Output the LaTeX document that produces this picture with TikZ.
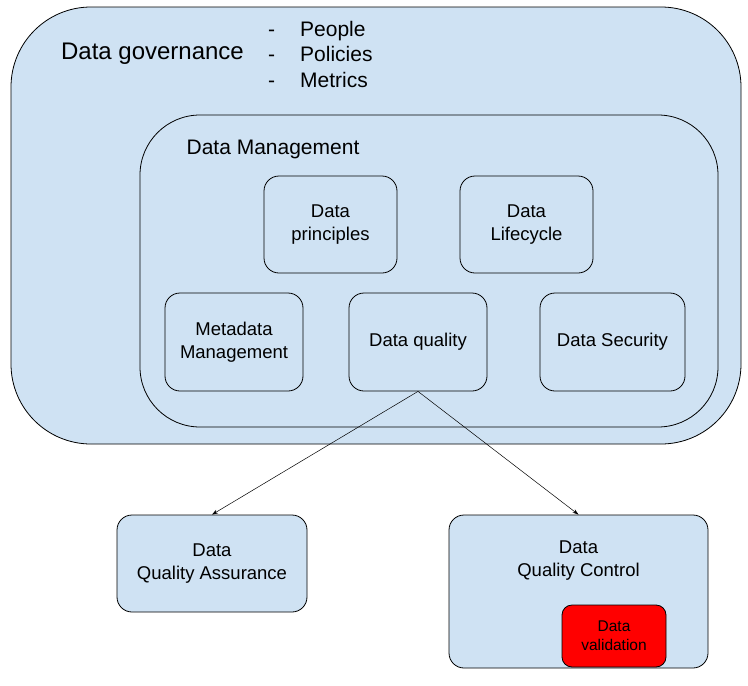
\documentclass[tikz,border=0pt]{standalone}
\usepackage{fontspec}
\setmainfont{Liberation Sans}
\usetikzlibrary{arrows.meta}
\definecolor{govblue}{HTML}{CFE2F3}
\definecolor{valred}{HTML}{FF0000}
\tikzset{
  area/.style={draw, fill=govblue, line width=0.8pt, inner sep=0pt},
  topic/.style={area, rounded corners=15pt, align=center, font=\fontsize{18.5}{23}\selectfont},
  heading/.style={inner sep=0pt, align=left},
  link/.style={-{Stealth[length=6pt,width=4pt]}, line width=0.5pt}
}

\begin{document}
\begin{tikzpicture}[x=1pt, y=-1pt]
				%%%%% START %%%%%
				\useasboundingbox (0, 0) rectangle (748, 686);
				
				\node[area, rounded corners=80pt, minimum width=730pt, minimum height=437pt] (gov) at (376, 225.5) {};
				\node[heading, font=\fontsize{24}{29}\selectfont] (govtitle) at (152.5, 54) {Data governance};
				\node[heading, anchor=west, font=\fontsize{21}{25.5}\selectfont] (govlist) at (268, 54)
					{\makebox[32pt][l]{-}People\\\makebox[32pt][l]{-}Policies\\\makebox[32pt][l]{-}Metrics};
				
				\node[area, rounded corners=60pt, minimum width=578pt, minimum height=312pt] (mgmt) at (429, 271) {};
				\node[heading, font=\fontsize{21}{26}\selectfont] (mgmttitle) at (273, 149) {Data Management};
				
				\node[topic, minimum width=133pt, minimum height=97pt] (princ) at (330.5, 224.5) {Data\\principles};
				\node[topic, minimum width=133pt, minimum height=97pt] (life) at (526.5, 224.5) {Data\\Lifecycle};
				\node[topic, minimum width=138pt, minimum height=98pt] (meta) at (234, 342) {Metadata\\Management};
				\node[topic, minimum width=138pt, minimum height=98pt] (dq) at (418, 342) {Data quality};
				\node[topic, minimum width=145pt, minimum height=98pt] (sec) at (612.5, 342) {Data Security};
				
				\node[topic, minimum width=190pt, minimum height=97pt] (qa) at (212, 563.5) {Data\\Quality Assurance};
				\node[topic, minimum width=259pt, minimum height=153pt] (qc) at (578.5, 591.5) {};
				\node[heading, align=center, font=\fontsize{18.5}{23}\selectfont] (qctitle) at (578.5, 561) {Data\\Quality Control};
				\node[topic, fill=valred, rounded corners=10pt, minimum width=104pt, minimum height=62pt,
					font=\fontsize{15.5}{19}\selectfont] (valid) at (614, 636) {Data\\validation};
				
				\draw[link] (dq.south) -- (qa.north);
				\draw[link] (dq.south) -- (qc.north);
				%%%%% END %%%%%
\end{tikzpicture}
\end{document}
